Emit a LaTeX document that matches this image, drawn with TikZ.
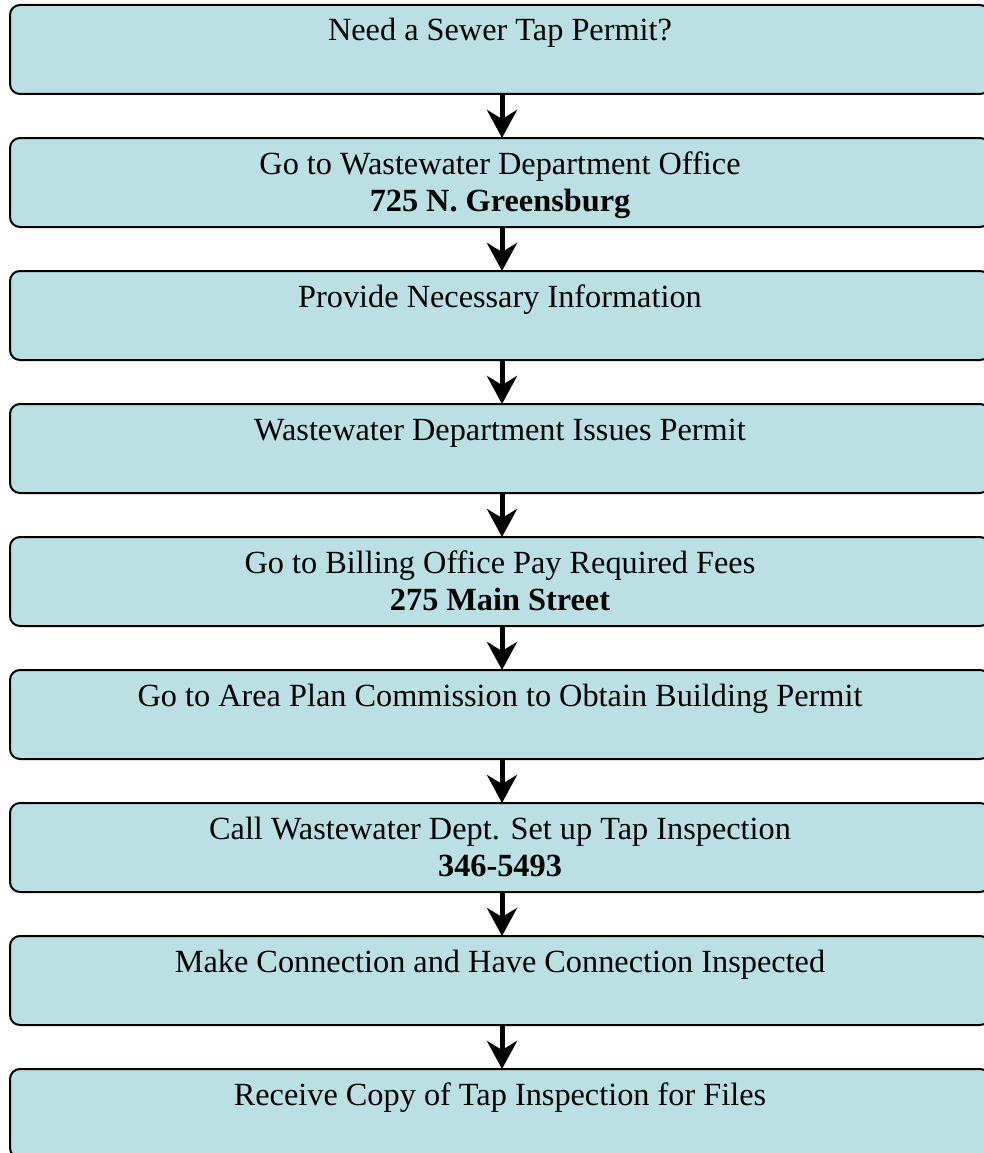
\documentclass[tikz,border=0pt]{standalone}
\usepackage{fontspec}
\setmainfont{Liberation Serif}
\usetikzlibrary{positioning,arrows.meta}
\definecolor{boxblue}{RGB}{186,224,227}
\tikzset{
  stepbox/.style={draw=black, fill=boxblue, line width=2pt, rounded corners=10pt,
    minimum width=980pt, minimum height=89pt, inner sep=0pt, outer sep=0pt},
  steptext/.style={anchor=base, align=center, inner sep=0pt,
    font=\fontsize{32.3}{37}\selectfont},
  flow/.style={line width=5pt, -{Stealth[length=28pt, width=30pt, inset=9pt]}}
}
\begin{document}
\begin{tikzpicture}[x=1pt, y=1pt, node distance=44pt]
      \useasboundingbox (0,0) rectangle (984,-1153);
      % boxes
      \node[stepbox] (b1) at (500,-49.5) {};
      \node[stepbox, below=of b1] (b2) {};
      \node[stepbox, below=of b2] (b3) {};
      \node[stepbox, below=of b3] (b4) {};
      \node[stepbox, below=of b4] (b5) {};
      \node[stepbox, below=of b5] (b6) {};
      \node[stepbox, below=of b6] (b7) {};
      \node[stepbox, below=of b7] (b8) {};
      \node[stepbox, below=of b8] (b9) {};
      % texts (base of a two-line node is its last line)
      \node[steptext] (t1) at ([yshift=-36pt]b1.north) {Need a Sewer Tap Permit?};
      \node[steptext] (t2) at ([yshift=-73pt]b2.north) {Go to Wastewater Department Office\\\textbf{725 N. Greensburg}};
      \node[steptext] (t3) at ([yshift=-36pt]b3.north) {Provide Necessary Information};
      \node[steptext] (t4) at ([yshift=-36pt]b4.north) {Wastewater Department Issues Permit};
      \node[steptext] (t5) at ([yshift=-73pt]b5.north) {Go to Billing Office Pay Required Fees\\\textbf{275 Main Street}};
      \node[steptext] (t6) at ([yshift=-36pt]b6.north) {Go to Area Plan Commission to Obtain Building Permit};
      \node[steptext] (t7) at ([yshift=-73pt]b7.north) {Call Wastewater Dept. Set up Tap Inspection\\\textbf{346-5493}};
      \node[steptext] (t8) at ([yshift=-36pt]b8.north) {Make Connection and Have Connection Inspected};
      \node[steptext] (t9) at ([yshift=-36pt]b9.north) {Receive Copy of Tap Inspection for Files};
      % arrows
      \foreach \a/\b in {b1/b2,b2/b3,b3/b4,b4/b5,b5/b6,b6/b7,b7/b8,b8/b9}
        \draw[flow] ([xshift=2pt]\a.south) -- ([xshift=2pt]\b.north);
\end{tikzpicture}
\end{document}
